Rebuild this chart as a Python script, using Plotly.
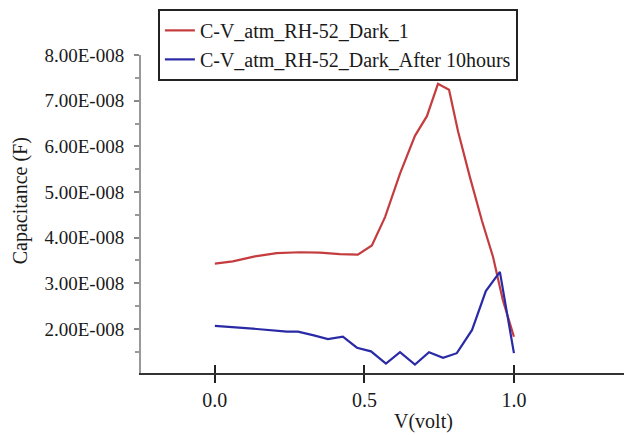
import plotly.graph_objects as go

# Data
v_red = [0.0, 0.06, 0.134, 0.207, 0.284, 0.351, 0.418, 0.478, 0.525, 0.569, 0.619,
         0.669, 0.709, 0.746, 0.783, 0.813, 0.853, 0.893, 0.93, 0.963, 1.0]
c_red = [3.43, 3.48, 3.59, 3.66, 3.68, 3.67, 3.64, 3.63, 3.83, 4.45, 5.40,
         6.23, 6.66, 7.37, 7.24, 6.33, 5.32, 4.37, 3.58, 2.63, 1.83]

v_blue = [0.0, 0.067, 0.14, 0.241, 0.278, 0.331, 0.378, 0.428, 0.475, 0.522, 0.572,
          0.619, 0.669, 0.716, 0.763, 0.809, 0.86, 0.906, 0.953, 1.0]
c_blue = [2.07, 2.04, 2.00, 1.94, 1.94, 1.86, 1.78, 1.83, 1.59, 1.51, 1.24,
          1.49, 1.22, 1.49, 1.37, 1.47, 1.98, 2.83, 3.25, 1.47]

c_red = [c * 1e-8 for c in c_red]
c_blue = [c * 1e-8 for c in c_blue]

name_red = "C-V_atm_RH-52_Dark_1"
name_blue = "C-V_atm_RH-52_Dark_After 10hours"

y_tickvals = [2e-8, 3e-8, 4e-8, 5e-8, 6e-8, 7e-8, 8e-8]
y_ticktext = ["2.00E-008", "3.00E-008", "4.00E-008", "5.00E-008",
              "6.00E-008", "7.00E-008", "8.00E-008"]
x_tickvals = [0.0, 0.5, 1.0]
x_ticktext = ["0.0", "0.5", "1.0"]

FONT = "Liberation Serif, Times New Roman, serif"
x_range = [-0.247, 1.368]
y_range = [1.036e-8, 8.0e-8]

fig = go.Figure()
fig.add_trace(go.Scatter(x=v_red, y=c_red, mode="lines", name=name_red,
                         line=dict(color="#c43c3e", width=2.2)))
fig.add_trace(go.Scatter(x=v_blue, y=c_blue, mode="lines", name=name_blue,
                         line=dict(color="#2a2aa6", width=2.2)))
# invisible trace on secondary x axis to get crossing ticks
fig.add_trace(go.Scatter(x=[None], y=[None], xaxis="x2", showlegend=False,
                         hoverinfo="skip"))

fig.update_layout(
    width=624, height=435,
    margin=dict(l=141, r=0, t=55, b=62),
    paper_bgcolor="white", plot_bgcolor="white",
    font=dict(family=FONT, size=20, color="#1a1a1a"),
    showlegend=True,
    legend=dict(x=0.035, y=1.145, xanchor="left", yanchor="top",
                bgcolor="white", bordercolor="#222", borderwidth=2,
                font=dict(family=FONT, size=20, color="#1a1a1a"),
                itemwidth=30, tracegroupgap=0),
    xaxis=dict(range=x_range, tickvals=x_tickvals, ticktext=x_ticktext,
               showgrid=False, zeroline=False, showline=True,
               linecolor="#333", linewidth=2, ticks="outside", ticklen=8,
               tickwidth=2, tickcolor="#222",
               tickfont=dict(family=FONT, size=20, color="#1a1a1a")),
    xaxis2=dict(range=x_range, overlaying="x", side="bottom",
                tickvals=x_tickvals, showticklabels=False, showgrid=False,
                zeroline=False, showline=False, ticks="inside", ticklen=8,
                tickwidth=2, tickcolor="#222", anchor="y"),
    yaxis=dict(range=y_range, tickvals=y_tickvals, ticktext=y_ticktext,
               showgrid=False, zeroline=False, showline=True,
               linecolor="#999", linewidth=2, ticks="outside", ticklen=5,
               tickwidth=1.5, tickcolor="#888",
               minor=dict(dtick=0.5e-8, tick0=0, ticks="outside", ticklen=4,
                          tickcolor="#999", tickwidth=1.5, showgrid=False),
               tickfont=dict(family=FONT, size=19, color="#1a1a1a"),
               ticklabelstandoff=6),
    annotations=[
        dict(text="V(volt)", xref="paper", yref="paper", x=0.584, y=-0.154,
             xanchor="center", yanchor="middle", showarrow=False,
             font=dict(family=FONT, size=20, color="#1a1a1a")),
        dict(text="Capacitance (F)", xref="paper", yref="paper", x=-0.2505,
             y=0.54, xanchor="center", yanchor="middle", showarrow=False,
             textangle=-90, font=dict(family=FONT, size=20, color="#1a1a1a")),
    ],
)

fig.write_html("out.html",
               config={"displayModeBar": False},
               post_script="document.body.style.margin='0';"
                           "document.body.style.overflow='hidden';")
